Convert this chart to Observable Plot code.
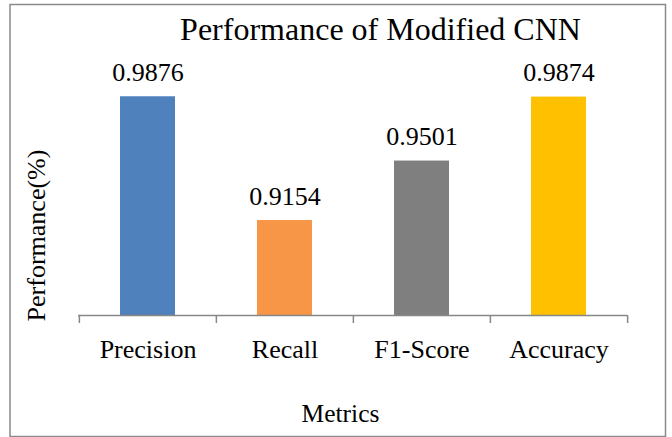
<!DOCTYPE html>
<html><head><meta charset="utf-8">
<script src="https://cdn.jsdelivr.net/npm/d3@7"></script>
<script src="https://cdn.jsdelivr.net/npm/@observablehq/plot@0.6"></script>
<style>body{margin:0;background:#fff;} #chart{width:672px;height:437px;} svg text{font-family:"Liberation Serif",serif;}</style>
</head><body><div id="chart"></div>
<script>
const metrics = ["Precision", "Recall", "F1-Score", "Accuracy"];
const values = [0.9876, 0.9154, 0.9501, 0.9874];
const valueLabels = ["0.9876", "0.9154", "0.9501", "0.9874"];
const colors = ["#4F81BD", "#F79646", "#7F7F7F", "#FFC000"];
const yDomain = [0.86, 1.0];
const title = "Performance of Modified CNN";
const xTitle = "Metrics";
const yTitle = "Performance(%)";

const data = metrics.map((m, i) => ({metric: m, value: values[i], label: valueLabels[i]}));
const W = 672, H = 437, mL = 78, mR = 45, mT = 75, mB = 122;
const step = (W - mL - mR) / metrics.length;
const grey = "#878787";
const font = "Liberation Serif";

const chart = Plot.plot({
  width: W, height: H,
  marginLeft: mL, marginRight: mR, marginTop: mT, marginBottom: mB,
  style: {fontFamily: font, fontSize: "26px", color: "#000", background: "#fff", overflow: "visible"},
  x: {domain: metrics, paddingInner: 0.6, paddingOuter: 0.3, axis: null},
  y: {domain: yDomain, axis: null},
  color: {domain: metrics, range: colors},
  marks: [
    Plot.frame({stroke: "#8a8a8a", strokeWidth: 1.5, insetLeft: -68.5, insetTop: -71, insetRight: -38, insetBottom: -121}),
    Plot.barY(data, {x: "metric", y1: yDomain[0], y2: "value", fill: "metric"}),
    Plot.ruleY([yDomain[0]], {stroke: grey, strokeWidth: 1.5}),
    Plot.ruleX(metrics, {x: d => d, dx: -step / 2, stroke: grey, strokeWidth: 1.5, insetTop: H - mT - mB, insetBottom: -8}),
    Plot.ruleX(metrics.slice(-1), {x: d => d, dx: step / 2, stroke: grey, strokeWidth: 1.5, insetTop: H - mT - mB, insetBottom: -8}),
    Plot.text(data, {x: "metric", y: "value", text: "label", lineAnchor: "bottom", dy: -16, fontSize: 26, fontFamily: font}),
    Plot.text(metrics, {x: d => d, text: d => d, frameAnchor: "bottom", lineAnchor: "top", dy: 24, fontSize: 26, fontFamily: font}),
    Plot.text([title], {text: d => d, frameAnchor: "top-left", dx: 302, dy: -35.7, lineAnchor: "bottom", textAnchor: "middle", fontSize: 32, fontFamily: font}),
    Plot.text([xTitle], {text: d => d, frameAnchor: "bottom-left", dx: 262, dy: 106, lineAnchor: "bottom", textAnchor: "middle", fontSize: 25.5, fontFamily: font}),
    Plot.text([yTitle], {text: d => d, frameAnchor: "left", rotate: -90, dx: -34, dy: 40, lineAnchor: "bottom", textAnchor: "middle", fontSize: 26, fontFamily: font})
  ]
});
document.getElementById("chart").appendChild(chart);
</script>
</body></html>
